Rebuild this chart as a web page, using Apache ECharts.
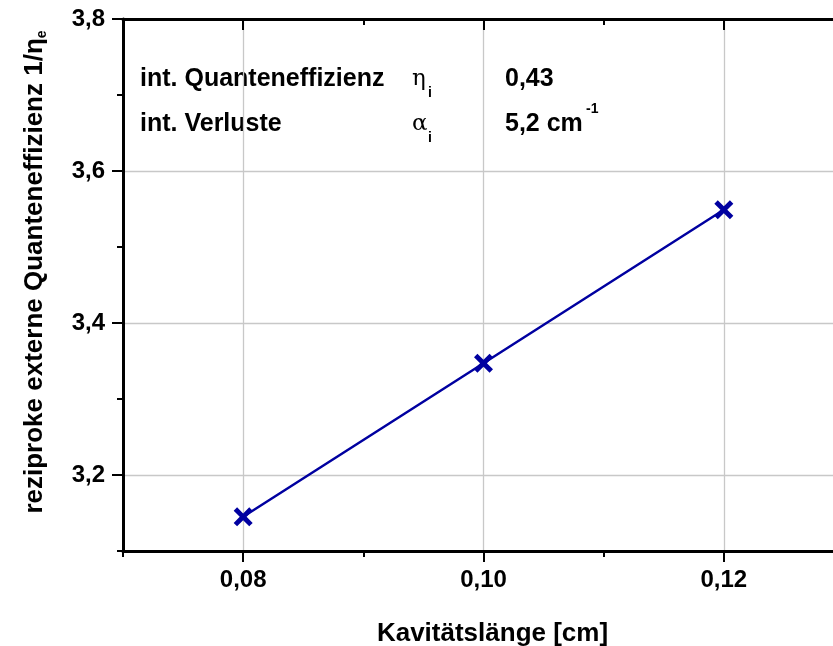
<!DOCTYPE html>
<html>
<head>
<meta charset="utf-8">
<script src="https://cdn.jsdelivr.net/npm/echarts@6/dist/echarts.min.js"></script>
<style>
html,body{margin:0;padding:0;background:#fff;}
#chart{width:833px;height:646px;}
</style>
</head>
<body>
<div id="chart"></div>
<script>
// Data
const kavitaetslaenge = [0.08, 0.10, 0.12];          // cm
const reziprokeEffizienz = [3.145, 3.347, 3.549];    // 1/eta_e
const xMajorTicks = [0.08, 0.10, 0.12];
const xMinorTicks = [0.07, 0.09, 0.11, 0.13];
const yMajorTicks = [3.2, 3.4, 3.6, 3.8];
const yMinorTicks = [3.1, 3.3, 3.5, 3.7];
const xTitle = 'Kavitätslänge [cm]';
const yTitle = 'reziproke externe Quanteneffizienz 1/η';
const yTitleSub = 'e';
const annotRows = [
  {label: 'int. Quanteneffizienz', sym: 'η', sub: 'i', value: '0,43', sup: ''},
  {label: 'int. Verluste', sym: 'α', sub: 'i', value: '5,2 cm', sup: '-1'}
];

const FONT = '"Liberation Sans", Arial, sans-serif';
const BLUE = '#0000a0';
const fmt = v => v.toFixed(v < 1 ? 2 : 1).replace('.', ',');

const chart = echarts.init(document.getElementById('chart'), null, {renderer: 'canvas'});

const grid = {left: 123, top: 19, width: 721, height: 532};
const xRange = {min: 0.07, max: 0.13};
const yRange = {min: 3.1, max: 3.8};

function xAx(pos, ticks, len, inside, showLine, showLabel, showSplit, name) {
  return Object.assign({
    type: 'value', position: pos, ...xRange,
    axisLine: {show: showLine, onZero: false, lineStyle: {color: '#000', width: 3}},
    axisTick: {show: true, inside: inside, length: len, customValues: ticks, lineStyle: {color: '#000', width: 2}},
    axisLabel: {show: showLabel, customValues: ticks, formatter: fmt, margin: 17,
      fontFamily: FONT, fontWeight: 'bold', fontSize: 24, color: '#000'},
    splitLine: {show: showSplit, lineStyle: {color: '#c8c8c8', width: 1.3}}
  }, name ? {name: name, nameLocation: 'middle', nameGap: 70,
    nameTextStyle: {fontFamily: FONT, fontWeight: 'bold', fontSize: 26, color: '#000', padding: [0, 0, 0, 18]}} : {});
}
function yAx(pos, ticks, len, inside, showLine, showLabel, showSplit) {
  return {
    type: 'value', position: pos, ...yRange,
    axisLine: {show: showLine, onZero: false, lineStyle: {color: '#000', width: 3}},
    axisTick: {show: true, inside: inside, length: len, customValues: ticks, lineStyle: {color: '#000', width: 2}},
    axisLabel: {show: showLabel, customValues: ticks, formatter: fmt, margin: 18,
      fontFamily: FONT, fontWeight: 'bold', fontSize: 24, color: '#000'},
    splitLine: {show: showSplit, lineStyle: {color: '#c8c8c8', width: 1.3}}
  };
}

const graphics = [];
// y title (rotated)
graphics.push({
  type: 'text', x: 35, y: 272, rotation: Math.PI / 2,
  style: {
    text: '{m|' + yTitle + '}{s|' + yTitleSub + '}',
    align: 'center', verticalAlign: 'middle',
    rich: {
      m: {fontFamily: FONT, fontWeight: 'bold', fontSize: 26, color: '#000', lineHeight: 32, verticalAlign: 'middle'},
      s: {fontFamily: FONT, fontWeight: 'bold', fontSize: 14, color: '#000', lineHeight: 32, verticalAlign: 'bottom', padding: [0,0,2,0]}
    }
  }
});
const rowY = [79, 124];
annotRows.forEach((r, i) => {
  const y = rowY[i];
  graphics.push({type: 'text', x: 140, y: y, style: {text: r.label, fontFamily: FONT, fontWeight: 'bold', fontSize: 25, fill: '#000', verticalAlign: 'middle'}});
  graphics.push({type: 'text', x: 412, y: y, style: {text: r.sym, fontFamily: '"DejaVu Serif", serif', fontSize: 23, fill: '#000', verticalAlign: 'middle'}});
  graphics.push({type: 'text', x: 428, y: y + 14, style: {text: r.sub, fontFamily: FONT, fontWeight: 'bold', fontSize: 14, fill: '#000', verticalAlign: 'middle'}});
  graphics.push({type: 'text', x: 505, y: y, style: {text: r.value, fontFamily: FONT, fontWeight: 'bold', fontSize: 25, fill: '#000', verticalAlign: 'middle'}});
  if (r.sup) {
    graphics.push({type: 'text', x: 586, y: y - 15, style: {text: r.sup, fontFamily: FONT, fontWeight: 'bold', fontSize: 14, fill: '#000', verticalAlign: 'middle'}});
  }
});

const d = 1.8;
const xPath = `path://M0,${d} L${d},0 L5,${5-d} L${10-d},0 L10,${d} L${5+d},5 L10,${10-d} L${10-d},10 L5,${5+d} L${d},10 L0,${10-d} L${5-d},5 Z`;

chart.setOption({
  animation: false,
  backgroundColor: '#fff',
  grid: Object.assign({containLabel: false, outerBoundsMode: 'none'}, grid),
  xAxis: [
    xAx('bottom', xMajorTicks, 11, false, true, true, true, xTitle),
    xAx('bottom', xMinorTicks, 6, false, false, false, false),
    xAx('top', xMajorTicks, 11, true, true, false, false),
    xAx('top', xMinorTicks, 6, true, false, false, false)
  ],
  yAxis: [
    yAx('left', yMajorTicks, 11, false, true, true, true),
    yAx('left', yMinorTicks, 6, false, false, false, false),
    yAx('right', yMajorTicks, 11, true, true, false, false),
    yAx('right', yMinorTicks, 6, true, false, false, false)
  ],
  series: [{
    type: 'line', xAxisIndex: 0, yAxisIndex: 0,
    data: kavitaetslaenge.map((x, i) => [x, reziprokeEffizienz[i]]),
    lineStyle: {color: BLUE, width: 2.5},
    itemStyle: {color: BLUE},
    symbol: xPath, symbolSize: 19, showSymbol: true, z: 5
  }],
  graphic: graphics
});
</script>
</body>
</html>
